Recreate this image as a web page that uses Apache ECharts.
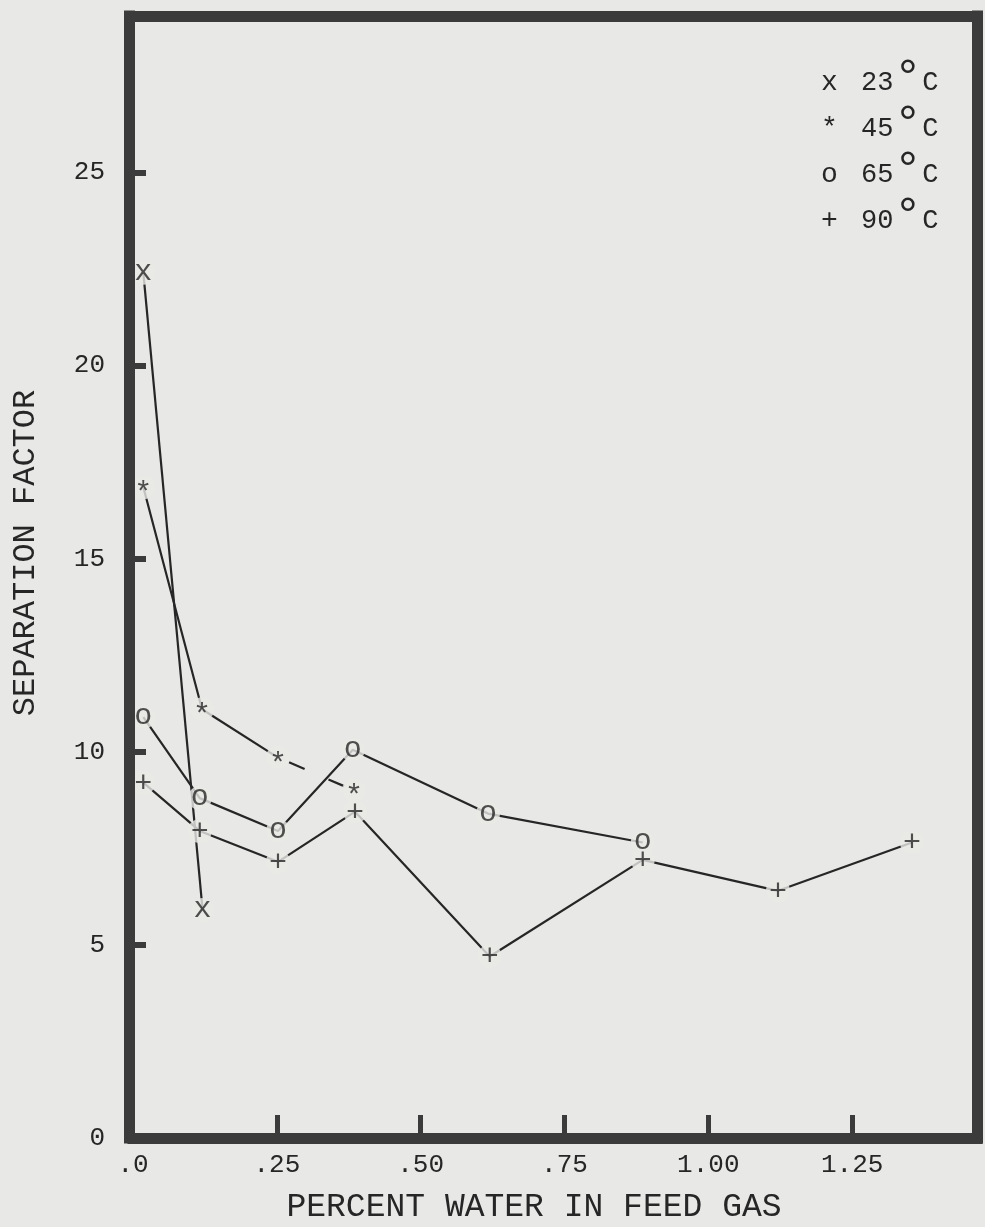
<!DOCTYPE html>
<html>
<head>
<meta charset="utf-8">
<script src="https://cdn.jsdelivr.net/npm/echarts@6/dist/echarts.min.js"></script>
<style>
html,body{margin:0;padding:0;background:#e8e8e6;}
#chart{width:985px;height:1227px;}
</style>
</head>
<body>
<div id="chart"></div>
<script>
// ---- data ----
const seriesNames = ['23°C', '45°C', '65°C', '90°C'];
const seriesGlyphs = ['x', '*', 'o', '+'];
const water23 = [0.018, 0.121];
const sep23 = [22.4, 5.9];
const water45 = [0.018, 0.12, 0.252, 0.384];
const sep45 = [16.85, 11.1, 9.85, 9.0];
const water65 = [0.018, 0.116, 0.252, 0.382, 0.617, 0.886];
const sep65 = [10.9, 8.8, 7.95, 10.05, 8.4, 7.65];
const water90 = [0.018, 0.116, 0.252, 0.386, 0.62, 0.886, 1.121, 1.354];
const sep90 = [9.2, 7.95, 7.15, 8.45, 4.7, 7.2, 6.4, 7.65];
const xTickValues = [0, 0.25, 0.5, 0.75, 1.0, 1.25];
const xTickLabels = ['.0', '.25', '.50', '.75', '1.00', '1.25'];
const yTickValues = [0, 5, 10, 15, 20, 25];
const yTickLabels = ['0', '5', '10', '15', '20', '25'];
const xTitle = 'PERCENT WATER IN FEED GAS';
const yTitle = 'SEPARATION FACTOR';

// ---- styling ----
const BG = '#e8e8e6';
const FRAME = '#3b3b3b';
const INK = '#262626';
const FONT = '"Liberation Mono", "DejaVu Sans Mono", monospace';

function pairs(xs, ys) { return xs.map((x, i) => [x, ys[i]]); }
const allData = [pairs(water23, sep23), pairs(water45, sep45), pairs(water65, sep65), pairs(water90, sep90)];

const series = [];
// connecting lines
allData.forEach((d, k) => {
  if (k === 1) {
    series.push({ type: 'line', name: '_l45a', data: d.slice(0, 3), symbol: 'none', z: 2, silent: true,
      lineStyle: { color: INK, width: 2.2 } });
    series.push({ type: 'line', name: '_l45b', data: d.slice(2), symbol: 'none', z: 2, silent: true,
      lineStyle: { color: INK, width: 2.2, type: [17, 26], dashOffset: -12 } });
  } else {
    series.push({ type: 'line', name: '_l' + k, data: d, symbol: 'none', z: 2, silent: true,
      lineStyle: { color: INK, width: 2.2 } });
  }
});
// masks (gaps of the line around each typed marker)
allData.forEach((d, k) => {
  series.push({ type: 'scatter', name: '_m' + k, data: d, symbol: 'circle', symbolSize: 24, z: 3, silent: true,
    itemStyle: { color: BG } });
});
// typed glyph markers
allData.forEach((d, k) => {
  series.push({ type: 'scatter', name: seriesNames[k], data: d, symbol: 'circle', symbolSize: 2, z: 4,
    itemStyle: { color: 'rgba(0,0,0,0)' },
    label: { show: true, position: 'inside', formatter: seriesGlyphs[k], color: INK,
      fontFamily: FONT, fontSize: 30, offset: k === 1 ? [0, 7] : (k === 3 ? [0, 1] : [0, -1]) } });
});

function fmtFrom(values, labels) {
  return function (v) {
    for (let i = 0; i < values.length; i++) if (Math.abs(v - values[i]) < 1e-6) return labels[i];
    return '';
  };
}

const chart = echarts.init(document.getElementById('chart'), null, { renderer: 'canvas' });
chart.setOption({
  backgroundColor: BG,
  animation: false,
  grid: { left: 133, right: 8, top: 16, bottom: 89, containLabel: false },
  legend: {
    data: seriesNames, orient: 'vertical', left: 810, top: 50, icon: 'none',
    itemWidth: 1, itemHeight: 1, itemGap: -10, selectedMode: false,
    formatter: function (name) {
      const k = seriesNames.indexOf(name);
      return '{m|' + seriesGlyphs[k] + '}{n|' + name.replace('°C', '') + '}{d|°}{n|C}';
    },
    textStyle: {
      color: INK, fontFamily: FONT,
      rich: {
        m: { fontFamily: FONT, fontSize: 28, color: INK, width: 40 },
        n: { fontFamily: FONT, fontSize: 27, color: INK },
        d: { fontFamily: FONT, fontSize: 48, color: INK, lineHeight: 26, padding: [0, 0, 8, 0] }
      }
    }
  },
  xAxis: [{
    type: 'value', min: 0, max: 1.467, interval: 0.25, position: 'bottom', z: 10,
    axisLine: { show: true, onZero: false, lineStyle: { color: FRAME, width: 11, cap: 'square' } },
    axisTick: { show: true, inside: true, length: 23, customValues: xTickValues.slice(1), lineStyle: { color: FRAME, width: 5 } },
    axisLabel: { margin: 14, color: INK, fontFamily: FONT, fontSize: 26, customValues: xTickValues,
      formatter: fmtFrom(xTickValues, xTickLabels) },
    splitLine: { show: false }
  }, {
    type: 'value', min: 0, max: 1.467, position: 'top', z: 10,
    axisLine: { show: true, onZero: false, lineStyle: { color: FRAME, width: 11, cap: 'square' } },
    axisTick: { show: false }, axisLabel: { show: false }, splitLine: { show: false }
  }],
  yAxis: [{
    type: 'value', min: 0, max: 29.05, interval: 5, position: 'left', offset: 4, z: 10,
    axisLine: { show: true, onZero: false, lineStyle: { color: FRAME, width: 11, cap: 'square' } },
    axisTick: { show: true, inside: true, length: 17, customValues: yTickValues.slice(1), lineStyle: { color: FRAME, width: 6 } },
    axisLabel: { margin: 24, color: INK, fontFamily: FONT, fontSize: 26, customValues: yTickValues,
      formatter: fmtFrom(yTickValues, yTickLabels) },
    splitLine: { show: false }
  }, {
    type: 'value', min: 0, max: 29.05, position: 'right', z: 10,
    axisLine: { show: true, onZero: false, lineStyle: { color: FRAME, width: 11, cap: 'square' } },
    axisTick: { show: false }, axisLabel: { show: false }, splitLine: { show: false }
  }],
  graphic: [
    { type: 'text', x: 534, y: 1207, silent: true,
      style: { text: xTitle, fill: INK, font: '33px ' + FONT, textAlign: 'center', textVerticalAlign: 'middle' } },
    { type: 'text', x: 26, y: 553, rotation: Math.PI / 2, silent: true,
      style: { text: yTitle, fill: INK, font: '32px ' + FONT, textAlign: 'center', textVerticalAlign: 'middle' } }
  ],
  series: series
});
</script>
</body>
</html>
